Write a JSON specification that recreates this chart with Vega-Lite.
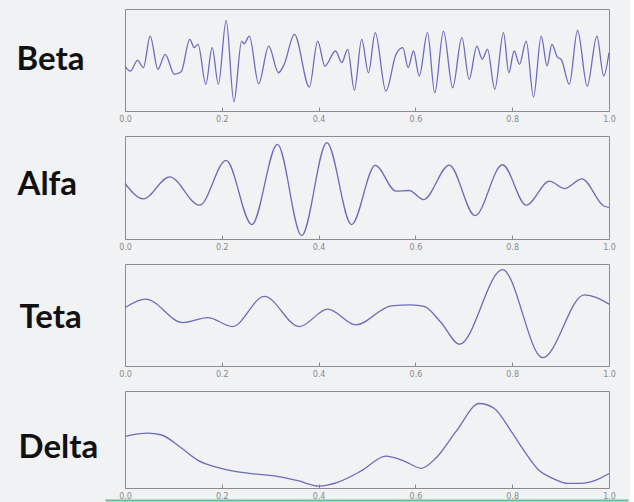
{
  "$schema": "https://vega.github.io/schema/vega-lite/v6.json",
  "background": "#f1f2f4",
  "padding": {"left": 15, "top": 8, "right": 0, "bottom": 0},
  "datasets": {
    "beta": [
      {"x": 0, "y": 44.1}, {"x": 0.011, "y": 39.2}, {"x": 0.026, "y": 49.7}, {"x": 0.038, "y": 42.5},
      {"x": 0.052, "y": 73.5}, {"x": 0.068, "y": 40.9}, {"x": 0.083, "y": 55.6}, {"x": 0.102, "y": 36.0},
      {"x": 0.116, "y": 38.5}, {"x": 0.134, "y": 70.3}, {"x": 0.143, "y": 62.1}, {"x": 0.151, "y": 65.4},
      {"x": 0.167, "y": 26.2}, {"x": 0.180, "y": 62.1}, {"x": 0.193, "y": 26.2}, {"x": 0.209, "y": 88.9},
      {"x": 0.225, "y": 9.1}, {"x": 0.241, "y": 68.6}, {"x": 0.246, "y": 66.0}, {"x": 0.257, "y": 73.5},
      {"x": 0.276, "y": 26.8}, {"x": 0.297, "y": 63.7}, {"x": 0.317, "y": 37.5}, {"x": 0.329, "y": 45.8},
      {"x": 0.350, "y": 75.2}, {"x": 0.381, "y": 23.5}, {"x": 0.398, "y": 68.6}, {"x": 0.413, "y": 44.1},
      {"x": 0.435, "y": 58.8}, {"x": 0.448, "y": 47.4}, {"x": 0.460, "y": 60.5}, {"x": 0.474, "y": 20.3},
      {"x": 0.489, "y": 70.3}, {"x": 0.503, "y": 37.5}, {"x": 0.517, "y": 76.8}, {"x": 0.539, "y": 19.6},
      {"x": 0.560, "y": 55.6}, {"x": 0.574, "y": 62.1}, {"x": 0.585, "y": 42.5}, {"x": 0.596, "y": 58.8},
      {"x": 0.608, "y": 34.3}, {"x": 0.625, "y": 76.8}, {"x": 0.640, "y": 17.9}, {"x": 0.658, "y": 78.4},
      {"x": 0.677, "y": 22.8}, {"x": 0.696, "y": 71.9}, {"x": 0.711, "y": 31.1}, {"x": 0.727, "y": 63.7},
      {"x": 0.738, "y": 50.7}, {"x": 0.749, "y": 60.5}, {"x": 0.764, "y": 21.3}, {"x": 0.782, "y": 76.8},
      {"x": 0.793, "y": 37.5}, {"x": 0.804, "y": 58.8}, {"x": 0.815, "y": 45.8}, {"x": 0.829, "y": 68.6},
      {"x": 0.844, "y": 13.7}, {"x": 0.860, "y": 73.5}, {"x": 0.872, "y": 44.1}, {"x": 0.882, "y": 65.4},
      {"x": 0.894, "y": 52.3}, {"x": 0.901, "y": 50.7}, {"x": 0.918, "y": 26.2}, {"x": 0.935, "y": 79.1},
      {"x": 0.955, "y": 24.5}, {"x": 0.975, "y": 73.5}, {"x": 0.989, "y": 34.3}, {"x": 1.0, "y": 57.2}
    ],
    "alfa": [
      {"x": 0, "y": 53.9}, {"x": 0.038, "y": 39.0}, {"x": 0.092, "y": 60.4}, {"x": 0.154, "y": 32.8},
      {"x": 0.209, "y": 76.3}, {"x": 0.262, "y": 14.0}, {"x": 0.315, "y": 91.9}, {"x": 0.365, "y": 3.2},
      {"x": 0.417, "y": 93.5}, {"x": 0.468, "y": 14.0}, {"x": 0.517, "y": 71.4}, {"x": 0.560, "y": 46.4},
      {"x": 0.587, "y": 47.1}, {"x": 0.617, "y": 38.3}, {"x": 0.670, "y": 71.8}, {"x": 0.723, "y": 22.7},
      {"x": 0.780, "y": 72.1}, {"x": 0.829, "y": 32.8}, {"x": 0.877, "y": 56.2}, {"x": 0.908, "y": 49.0},
      {"x": 0.944, "y": 58.4}, {"x": 0.990, "y": 31.8}, {"x": 1.0, "y": 30.8}
    ],
    "teta": [
      {"x": 0, "y": 57.4}, {"x": 0.043, "y": 65.6}, {"x": 0.119, "y": 42.6}, {"x": 0.171, "y": 47.5},
      {"x": 0.222, "y": 38.7}, {"x": 0.288, "y": 68.2}, {"x": 0.360, "y": 38.7}, {"x": 0.419, "y": 55.7},
      {"x": 0.477, "y": 40.3}, {"x": 0.550, "y": 59.0}, {"x": 0.591, "y": 60.0}, {"x": 0.618, "y": 58.4},
      {"x": 0.653, "y": 42.6}, {"x": 0.691, "y": 21.3}, {"x": 0.780, "y": 94.4}, {"x": 0.863, "y": 8.2},
      {"x": 0.949, "y": 69.8}, {"x": 1.0, "y": 60.7}
    ],
    "delta": [
      {"x": 0, "y": 53.2}, {"x": 0.047, "y": 56.6}, {"x": 0.074, "y": 54.9}, {"x": 0.116, "y": 41.4},
      {"x": 0.150, "y": 28.8}, {"x": 0.198, "y": 20.3}, {"x": 0.260, "y": 14.9}, {"x": 0.309, "y": 12.5},
      {"x": 0.357, "y": 7.5}, {"x": 0.401, "y": 2.0}, {"x": 0.439, "y": 5.8}, {"x": 0.488, "y": 17.6},
      {"x": 0.539, "y": 32.9}, {"x": 0.577, "y": 27.8}, {"x": 0.612, "y": 20.3}, {"x": 0.643, "y": 31.2},
      {"x": 0.684, "y": 58.3}, {"x": 0.732, "y": 87.1}, {"x": 0.763, "y": 82.0}, {"x": 0.798, "y": 58.3},
      {"x": 0.825, "y": 38.0}, {"x": 0.853, "y": 19.3}, {"x": 0.887, "y": 9.2}, {"x": 0.915, "y": 4.7},
      {"x": 0.942, "y": 4.7}, {"x": 0.970, "y": 7.5}, {"x": 1.0, "y": 14.9}
    ]
  },
  "spacing": 25,
  "bounds": "flush",
  "vconcat": [
    {
      "width": 484, "height": 102,
      "data": {"name": "beta"},
      "mark": {"type": "line", "interpolate": "monotone", "color": "#6c6cbc", "strokeWidth": 1.3},
      "encoding": {
        "x": {"field": "x", "type": "quantitative", "scale": {"domain": [0, 1], "nice": false, "zero": false},
              "axis": {"title": null, "values": [0, 0.2, 0.4, 0.6, 0.8, 1], "format": ".1f"}},
        "y": {"field": "y", "type": "quantitative", "scale": {"domain": [0, 100], "nice": false, "zero": false},
              "axis": {"title": "Beta", "titleX": -109, "titleY": 60}}
      }
    },
    {
      "width": 484, "height": 103,
      "data": {"name": "alfa"},
      "mark": {"type": "line", "interpolate": "monotone", "color": "#6c6cbc", "strokeWidth": 1.3},
      "encoding": {
        "x": {"field": "x", "type": "quantitative", "scale": {"domain": [0, 1], "nice": false, "zero": false},
              "axis": {"title": null, "values": [0, 0.2, 0.4, 0.6, 0.8, 1], "format": ".1f"}},
        "y": {"field": "y", "type": "quantitative", "scale": {"domain": [0, 100], "nice": false, "zero": false},
              "axis": {"title": "Alfa", "titleX": -108, "titleY": 58}}
      }
    },
    {
      "width": 484, "height": 102,
      "data": {"name": "teta"},
      "mark": {"type": "line", "interpolate": "monotone", "color": "#6c6cbc", "strokeWidth": 1.3},
      "encoding": {
        "x": {"field": "x", "type": "quantitative", "scale": {"domain": [0, 1], "nice": false, "zero": false},
              "axis": {"title": null, "values": [0, 0.2, 0.4, 0.6, 0.8, 1], "format": ".1f"}},
        "y": {"field": "y", "type": "quantitative", "scale": {"domain": [0, 100], "nice": false, "zero": false},
              "axis": {"title": "Teta", "titleX": -106, "titleY": 63}}
      }
    },
    {
      "width": 484, "height": 97,
      "data": {"name": "delta"},
      "layer": [
        {
          "mark": {"type": "line", "interpolate": "monotone", "color": "#6c6cbc", "strokeWidth": 1.3},
          "encoding": {
            "x": {"field": "x", "type": "quantitative", "scale": {"domain": [0, 1], "nice": false, "zero": false},
                  "axis": {"title": null, "values": [0, 0.2, 0.4, 0.6, 0.8, 1], "format": ".1f"}},
            "y": {"field": "y", "type": "quantitative", "scale": {"domain": [0, 100], "nice": false, "zero": false},
                  "axis": {"title": "Delta", "titleX": -107, "titleY": 66}}
          }
        },
        {
          "data": {"values": [{}]},
          "mark": {"type": "rule", "color": "#66bb99", "strokeWidth": 2, "clip": false},
          "encoding": {
            "x": {"datum": -0.04},
            "x2": {"datum": 1.04},
            "y": {"datum": -13}
          }
        }
      ]
    }
  ],
  "config": {
    "view": {"stroke": "#8c8c8c", "strokeWidth": 1},
    "axis": {"grid": false, "domain": false},
    "axisX": {
      "labelFont": "DejaVu Sans", "labelFontSize": 8, "labelColor": "#8a8a8a",
      "tickColor": "#8c8c8c", "tickSize": -4, "labelPadding": 8, "labelFlush": false, "labelOverlap": false
    },
    "axisY": {
      "labels": false, "ticks": false,
      "titleAngle": 0, "titleAlign": "left", "titleBaseline": "alphabetic",
      "titleFont": "Lato", "titleFontSize": 33, "titleFontWeight": "bold", "titleColor": "#111111"
    }
  }
}
